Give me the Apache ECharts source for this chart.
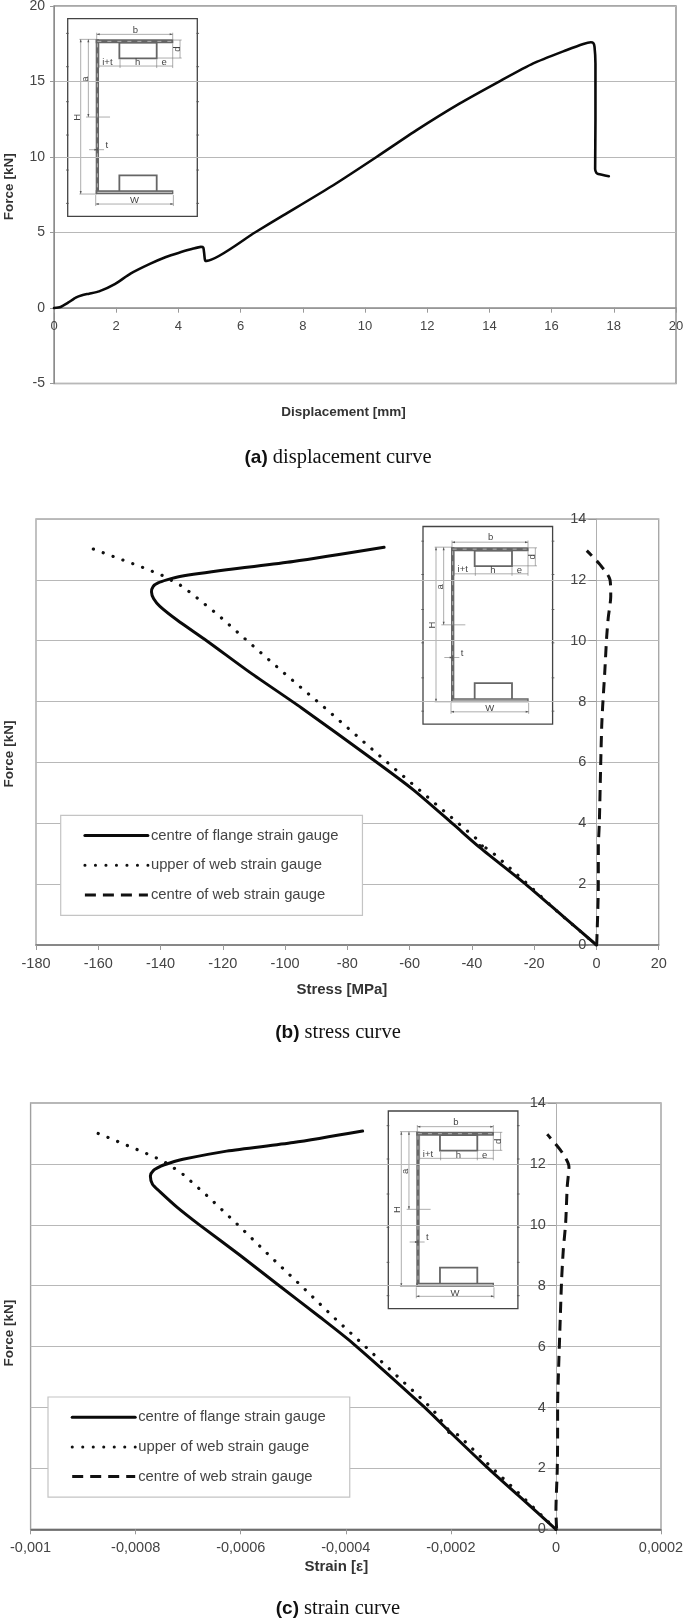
<!DOCTYPE html>
<html><head><meta charset="utf-8">
<style>html,body{margin:0;padding:0;background:#fff}#c{width:685px;height:1619px}</style>
<script src="https://cdn.jsdelivr.net/npm/echarts@6/dist/echarts.min.js"></script>
</head><body><div id="c"></div>
<script>
// ---- data: [x, force kN]
const displacementCurve = [[0,0],[0.21,0.07],[0.45,0.35],[0.7,0.69],[0.9,0.85],[1.13,0.95],[1.45,1.1],[1.97,1.6],[2.46,2.28],[3.1,2.94],[3.6,3.38],[4.0,3.65],[4.43,3.9],[4.72,4.05],[4.8,4.0],[4.83,3.6],[4.86,3.12],[4.91,3.12],[6.46,5.0],[7.37,6.13],[8.98,8.13],[10.37,10.0],[11.66,11.78],[13.05,13.55],[14.34,15.03],[15.41,16.2],[16.49,17.09],[17.02,17.49],[17.26,17.6],[17.34,17.55],[17.38,17.3],[17.41,16.2],[17.41,12.45],[17.4,9.2],[17.44,8.95],[17.5,8.87],[17.84,8.73]];
const stressFlange = [[0,0],[-10.6,0.93],[-22.4,1.97],[-37.4,3.2],[-46,3.97],[-58.8,5.1],[-71.7,6.09],[-94.7,7.79],[-111.3,8.96],[-125.2,10.0],[-134.8,10.69],[-140.2,11.13],[-142.2,11.38],[-142.9,11.6],[-142.4,11.78],[-140.8,11.9],[-138,12.0],[-133.8,12.11],[-118.8,12.33],[-97.4,12.6],[-68.2,13.07]];
const stressUpper = [[0,0],[-11.7,1.02],[-22.4,2.03],[-32.5,2.96],[-35.5,3.19],[-38,3.3],[-35.8,3.15],[-38.6,3.5],[-43.8,3.95],[-49.2,4.42],[-68.2,6.09],[-87.2,7.79],[-100.6,8.96],[-111.3,9.92],[-122,10.89],[-133,11.79],[-139.3,12.14],[-146,12.42],[-162.6,13.05]];
const stressCentre = [[0,0],[0.1,0.05],[0.6,1.9],[0.62,3.23],[0.93,4.0],[1.38,5.98],[1.7,7.2],[2.0,7.84],[2.66,8.94],[3.3,10.14],[3.8,10.76],[4.6,11.46],[4.37,12.0],[1.16,12.5],[-3.1,12.96]];
const strainFlange = [[0,0],[-0.000069,1.07],[-0.000132,2.05],[-0.000205,3.25],[-0.000253,4.05],[-0.000386,6.1],[-0.00045,6.98],[-0.000526,7.99],[-0.000602,9.01],[-0.000678,9.99],[-0.000722,10.59],[-0.000754,11.09],[-0.000768,11.33],[-0.000772,11.6],[-0.000766,11.79],[-0.000752,11.93],[-0.000735,12.03],[-0.00071,12.15],[-0.000627,12.42],[-0.0005,12.7],[-0.000368,13.08]];
const strainUpper = [[0,0],[-0.000065,1.09],[-0.000126,2.09],[-0.000186,3.1],[-0.000205,3.2],[-0.000198,3.12],[-0.000234,3.92],[-0.000251,4.21],[-0.000359,5.94],[-0.000421,6.93],[-0.000482,7.95],[-0.000543,8.95],[-0.000603,9.96],[-0.000665,10.97],[-0.000712,11.69],[-0.000748,12.1],[-0.000786,12.39],[-0.000864,12.95],[-0.000881,13.06]];
const strainCentre = [[0.0000013,0.02],[0,0.6],[0.0000025,1.95],[0.0000032,3.0],[0.0000032,4.03],[0.000005,5.23],[0.0000076,6.6],[0.0000108,8.19],[0.000014,9.17],[0.0000185,10.06],[0.0000215,11.25],[0.0000248,11.91],[0.0000108,12.4],[-0.0000166,12.97]];
const seriesNames = ['centre of flange strain gauge','upper of web strain gauge','centre of web strain gauge'];

// ---- inset schematic (decorative drawing, repeated in all three panels)
function inset(ox, oy) {
  const c = [];
  const t = v => v / 3;
  const X = x => t(x - 203), Y = y => t(y - 56);
  const line = (x1,y1,x2,y2,w,col) => c.push({type:'line',shape:{x1:X(x1),y1:Y(y1),x2:X(x2),y2:Y(y2)},style:{stroke:col||'#777',lineWidth:w||0.6}});
  const tri = (x,y,dx,dy) => c.push({type:'polygon',shape:{points:[[X(x),Y(y)],[X(x+dx*9+dy*3),Y(y+dy*9+dx*3)],[X(x+dx*9-dy*3),Y(y+dy*9-dx*3)]]},style:{fill:'#555'}});
  const txt = (s,x,y,rot) => c.push({type:'text',x:X(x),y:Y(y),rotation:rot?Math.PI/2:0,style:{text:s,font:'9.5px "Liberation Sans"',fill:'#444',align:'center',verticalAlign:'middle'}});
  c.push({type:'rect',shape:{x:0,y:0,width:129.6,height:197.6},style:{fill:'#fff',stroke:'#444',lineWidth:1.3}});
  [100,200,305,405,510,610].forEach(y=>{line(198,y,206,y,0.9,'#555');line(589,y,597,y,0.9,'#555');});
  // hats
  c.push({type:'rect',shape:{x:X(358),y:Y(128),width:t(112),height:t(47)},style:{fill:'#fff',stroke:'#666',lineWidth:1.8}});
  c.push({type:'rect',shape:{x:X(358),y:Y(526),width:t(112),height:t(50)},style:{fill:'#fff',stroke:'#666',lineWidth:1.8}});
  // C profile
  c.push({type:'rect',shape:{x:X(287),y:Y(118),width:t(233),height:t(12)},style:{fill:'#666'}});
  c.push({type:'rect',shape:{x:X(287),y:Y(118),width:t(10),height:t(464)},style:{fill:'#666'}});
  c.push({type:'rect',shape:{x:X(287),y:Y(571),width:t(233),height:t(12)},style:{fill:'#666'}});
  line(292,124,516,124,0.8,'#c8c8c8');c[c.length-1].style.lineDash=[4,6];
  line(292,130,292,578,0.8,'#c8c8c8');c[c.length-1].style.lineDash=[4,6];
  line(292,577,516,577,0.9,'#d0d0d0');
  // dimension lines
  line(290,103,518,103);tri(290,103,1,0);tri(518,103,-1,0);
  line(290,98,290,118);line(518,98,518,118);
  line(238,118,290,118);line(238,582,290,582);
  line(242,118,242,582);tri(242,118,0,1);tri(242,582,0,-1);
  line(265,118,265,351);tri(265,118,0,1);tri(265,351,0,-1);
  line(258,351,330,351);
  line(267,449,312,449);tri(285,449,1,0);tri(292,449,-1,0);
  line(297,198,518,198);line(360,178,360,204);line(470,178,470,204);line(518,130,518,204);line(297,130,297,204);
  line(520,120,545,120);line(470,174,545,174);line(540,120,540,174);
  line(287,612,520,612);tri(287,612,1,0);tri(520,612,-1,0);line(287,585,287,618);line(520,585,520,618);
  txt('b',406,90);txt('d',532,147,true);txt('i+t',322,186);txt('h',413,188);txt('e',492,188);
  txt('a',255,237,true);txt('H',231,352,true);txt('t',320,436);txt('W',403,602);
  return {type:'group',x:ox,y:oy,z:20,children:c};
}

const labelCol = '#444';
const axisName = (name,gap,pad,fs) => ({name,nameLocation:'middle',nameGap:gap,nameMoveOverlap:false,nameTextStyle:{fontFamily:'Liberation Sans',fontWeight:'bold',fontSize:fs,color:'#333',padding:pad}});
function xAxis(i,min,max,interval,offset,name,gap,pad,fs,size,fmt,lineCol,margin){
  return Object.assign({type:'value',gridIndex:i,min,max,interval,position:'bottom',offset,splitLine:{show:false},
    axisLine:{show:true,onZero:false,lineStyle:{color:lineCol,width:1.5}},
    axisTick:{show:true,length:5,lineStyle:{color:'#999'}},
    axisLabel:{margin,fontFamily:'Liberation Sans',fontSize:size,color:labelCol,hideOverlap:false,showMinLabel:true,showMaxLabel:true,formatter:fmt||(v=>String(v))}},axisName(name,gap,pad,fs));
}
function yAxis(i,min,max,interval,offset,gap,pad,size,margin,tick,gridCol,lineCol){
  return Object.assign({type:'value',gridIndex:i,min,max,interval,position:'left',offset,
    splitLine:{show:true,lineStyle:{color:gridCol,width:1.2}},
    axisLine:{show:true,onZero:false,lineStyle:{color:lineCol,width:1}},
    axisTick:{show:true,length:tick,lineStyle:{color:'#999'}},
    axisLabel:{margin,fontFamily:'Liberation Sans',fontSize:size,color:labelCol,showMinLabel:true,showMaxLabel:true}},axisName('Force [kN]',gap,pad,13.5));
}
const base = {type:'line',showSymbol:false,symbol:'none',animation:false,z:5};
const solid = (w)=>({color:'#0a0a0a',width:w,type:'solid',join:'round',cap:'round'});
const dotted = {color:'#111',width:3.2,type:[0.1,10.4],cap:'round'};
const dashed = {color:'#111',width:3,type:[11,7],cap:'butt'};
function trio(i,a,b,c){
  return [
    Object.assign({},base,{name:seriesNames[0],xAxisIndex:i,yAxisIndex:i,data:a,smooth:0.25,lineStyle:solid(3),itemStyle:{color:'#0a0a0a'}}),
    Object.assign({},base,{name:seriesNames[1],xAxisIndex:i,yAxisIndex:i,data:b,lineStyle:dotted,itemStyle:{color:'#111'}}),
    Object.assign({},base,{name:seriesNames[2],xAxisIndex:i,yAxisIndex:i,data:c,smooth:0.25,lineStyle:dashed,itemStyle:{color:'#111'}})
  ];
}
const legend = (left,top)=>({data:seriesNames,orient:'vertical',left,top,itemWidth:63,itemHeight:14,itemGap:14.7,itemStyle:{opacity:0},lineStyle:{width:3},
  padding:[12.7,24,13,22.7],backgroundColor:'#fff',borderColor:'#c4c4c4',borderWidth:1.2,selectedMode:false,z:10,
  textStyle:{fontFamily:'Liberation Sans',fontSize:14.8,color:'#444',padding:[0,0,0,-2]}});
const caption = (tag,txt,top)=>({text:`{b|${tag}} {s|${txt}}`,left:333,top,textAlign:'center',
  textStyle:{rich:{b:{fontFamily:'Liberation Sans',fontWeight:'bold',fontSize:19,color:'#111'},s:{fontFamily:'Liberation Serif',fontWeight:'normal',fontSize:20.5,color:'#111'}}}});
const commaFmt = v => String(v).replace('.',',');
const gridBase = {show:true,containLabel:false,outerBoundsMode:'none',borderWidth:1.4};

const option = {
  backgroundColor:'#fff',animation:false,
  title:[caption('(a)','displacement curve',442.5),caption('(b)','stress curve',1017),caption('(c)','strain curve',1593)],
  grid:[
    Object.assign({},gridBase,{left:54,top:6,width:622,height:377.5,borderColor:'#8c8c8c'}),
    Object.assign({},gridBase,{left:36,top:519,width:622.7,height:426,borderColor:'#a8a8a8'}),
    Object.assign({},gridBase,{left:30.6,top:1103,width:630.4,height:426.3,borderColor:'#a0a0a0'})
  ],
  xAxis:[
    xAxis(0,0,20,2,-75.8,'Displacement [mm]',98,[0,43,0,0],13.5,13,null,'#8c8c8c',12.5),
    xAxis(1,-180,20,20,0,'Stress [MPa]',37,[0,11,0,0],15,14.5,null,'#777',11),
    xAxis(2,-0.001,0.0002,0.0002,0,'Strain [ε]',30,[0,19,0,0],15,14.5,commaFmt,'#555',11)
  ],
  yAxis:[
    yAxis(0,-5,20,5,0,38,[0,0,0,16],14,9,4,'#b8b8b8','#8c8c8c'),
    yAxis(1,0,14,2,-560.4,580,[0,44,0,0],14.5,10,8,'#b8b8b8','#b0b0b0'),
    yAxis(2,0,14,2,-525.3,540,[0,34,0,0],14.5,10,8,'#b8b8b8','#b0b0b0')
  ],
  legend:[legend(60.7,815.3),legend(48,1397)],
  series:[
    Object.assign({},base,{name:'Force',xAxisIndex:0,yAxisIndex:0,data:displacementCurve,smooth:0.2,lineStyle:solid(2.6)}),
    ...trio(1,stressFlange,stressUpper,stressCentre),
    ...trio(2,strainFlange,strainUpper,strainCentre)
  ],
  graphic:{elements:[inset(67.7,18.7),inset(423,526.5),inset(388.3,1111)]}
};
echarts.init(document.getElementById('c'),null,{renderer:'canvas',width:685,height:1619}).setOption(option);
</script></body></html>
